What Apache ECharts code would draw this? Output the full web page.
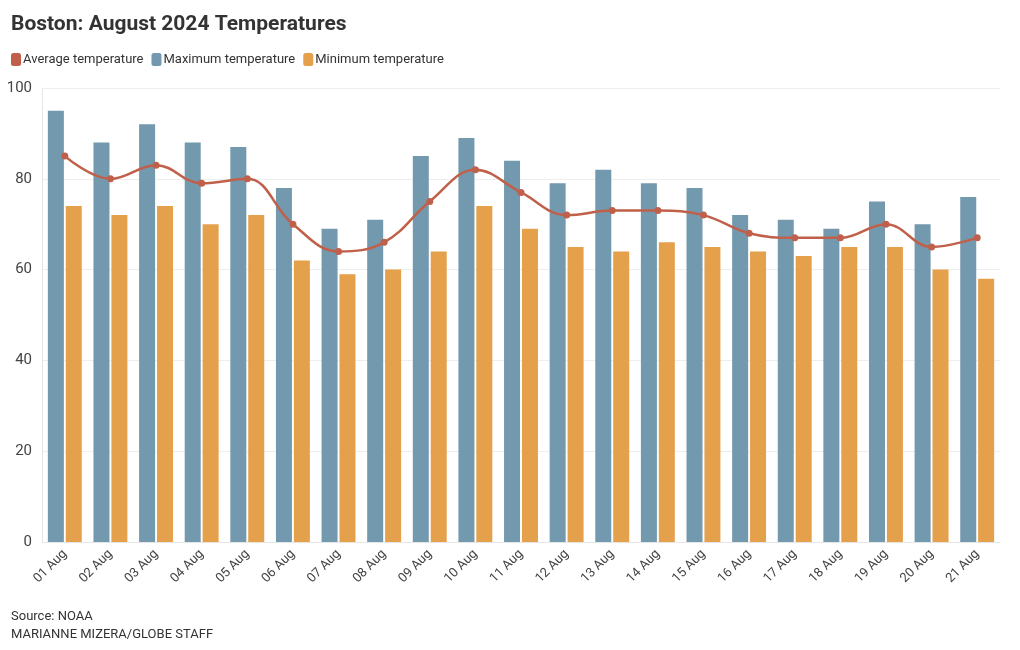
<!DOCTYPE html>
<html>
<head>
<meta charset="utf-8">
<script src="https://cdn.jsdelivr.net/npm/echarts@6/dist/echarts.min.js"></script>
<style>
html,body{margin:0;padding:0;background:#fff;}
#c{width:1020px;height:650px;}
</style>
</head>
<body>
<div id="c"></div>
<script>
const categories = ['01 Aug','02 Aug','03 Aug','04 Aug','05 Aug','06 Aug','07 Aug','08 Aug','09 Aug','10 Aug','11 Aug','12 Aug','13 Aug','14 Aug','15 Aug','16 Aug','17 Aug','18 Aug','19 Aug','20 Aug','21 Aug'];
const avgTemp = [85,80,83,79,80,70,64,66,75,82,77,72,73,73,72,68,67,67,70,65,67];
const maxTemp = [95,88,92,88,87,78,69,71,85,89,84,79,82,79,78,72,71,69,75,70,76];
const minTemp = [74,72,74,70,72,62,59,60,64,74,69,65,64,66,65,64,63,65,65,60,58];

const FONT = 'Roboto, sans-serif';
const chart = echarts.init(document.getElementById('c'));
chart.setOption({
  animation: false,
  textStyle: {fontFamily: FONT},
  title: [
    {text: 'Boston: August 2024 Temperatures', left: 6, top: 9,
     textStyle: {fontFamily: FONT, fontSize: 21, fontWeight: 'bold', color: '#333'}},
    {text: 'Source: NOAA\nMARIANNE MIZERA/GLOBE STAFF', left: 6, top: 603,
     textStyle: {fontFamily: FONT, fontSize: 13, fontWeight: 'normal', color: '#333', lineHeight: 18}}
  ],
  legend: {
    left: 6, top: 48, itemWidth: 10, itemHeight: 13, itemGap: 8,
    icon: 'roundRect',
    textStyle: {fontFamily: FONT, fontSize: 13, color: '#333', padding: [0,0,0,-3]},
    data: ['Average temperature','Maximum temperature','Minimum temperature']
  },
  grid: {left: 42, right: 20, top: 88, bottom: 108, containLabel: false},
  xAxis: {
    type: 'category', data: categories,
    axisLine: {lineStyle: {color: '#e6e6e6'}},
    axisTick: {show: false},
    axisLabel: {rotate: 45, color: '#444', fontSize: 13, fontFamily: FONT, margin: 10}
  },
  yAxis: {
    type: 'value', min: 0, max: 100, interval: 20,
    axisLine: {show: true, lineStyle: {color: '#e6e6e6'}},
    axisLabel: {color: '#444', fontSize: 15, fontFamily: FONT, margin: 10},
    splitLine: {lineStyle: {color: '#eeeeee'}}
  },
  series: [
    {name: 'Average temperature', type: 'line', data: avgTemp, smooth: 0.4, z: 5,
     symbol: 'circle', symbolSize: 7,
     itemStyle: {color: '#c0604a'}, lineStyle: {width: 2.5, color: '#c0604a'}},
    {name: 'Maximum temperature', type: 'bar', data: maxTemp, barWidth: 16, barGap: '12%',
     itemStyle: {color: '#7399ae'}},
    {name: 'Minimum temperature', type: 'bar', data: minTemp, barWidth: 16,
     itemStyle: {color: '#e5a04c'}}
  ]
});
</script>
</body>
</html>
